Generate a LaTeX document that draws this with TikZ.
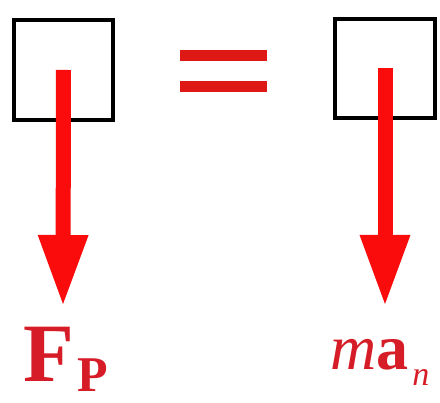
\documentclass[tikz,border=0pt]{standalone}
\usepackage{fontspec}
\setmainfont{Liberation Serif}
\usetikzlibrary{arrows.meta}
\definecolor{arrowred}{RGB}{250,12,12}
\definecolor{eqred}{RGB}{222,24,20}
\definecolor{labelred}{RGB}{214,28,38}
\tikzset{
  massbox/.style={draw=black, line width=4pt, rectangle, inner sep=0pt},
  forcearrow/.style={draw=arrowred, line width=15pt, -{Triangle[length=72pt,width=46pt]}},
  eqbar/.style={draw=eqred, line width=11pt, line cap=butt},
  lbl/.style={text=labelred, inner sep=0pt, anchor=base west}
}
\begin{document}
\begin{tikzpicture}[x=1pt,y=1pt]
\useasboundingbox (0,0) rectangle (440,403);
\fill[white] (0,0) rectangle (440,403);
\node[massbox, minimum width=99pt, minimum height=100pt] (boxL) at (63.5,333) {};
\node[massbox, minimum width=100pt, minimum height=99pt] (boxR) at (385,334.5) {};
\coordinate (eqA1) at (180,347);
\coordinate (eqA2) at (267,347);
\coordinate (eqB1) at (180,316);
\coordinate (eqB2) at (267,316);
\draw[eqbar] (eqA1) -- (eqA2);
\draw[eqbar] (eqB1) -- (eqB2);
\coordinate (tipL) at (63,96);
\coordinate (tipR) at (385,96);
\draw[forcearrow] (boxL.center) -- (tipL);
\draw[forcearrow] (boxR.center) -- (tipR);
\node[lbl] (labF) at (23,21) {\fontsize{83}{83}\selectfont\bfseries F\kern4pt\raisebox{-10pt}{\fontsize{50}{50}\selectfont P}};
\node[lbl] (labM) at (330,33) {\fontsize{64}{64}\selectfont\textit{m}\textbf{a}\kern4pt\raisebox{-16pt}{\fontsize{34}{34}\selectfont\textit{n}}};
\end{tikzpicture}
\end{document}
